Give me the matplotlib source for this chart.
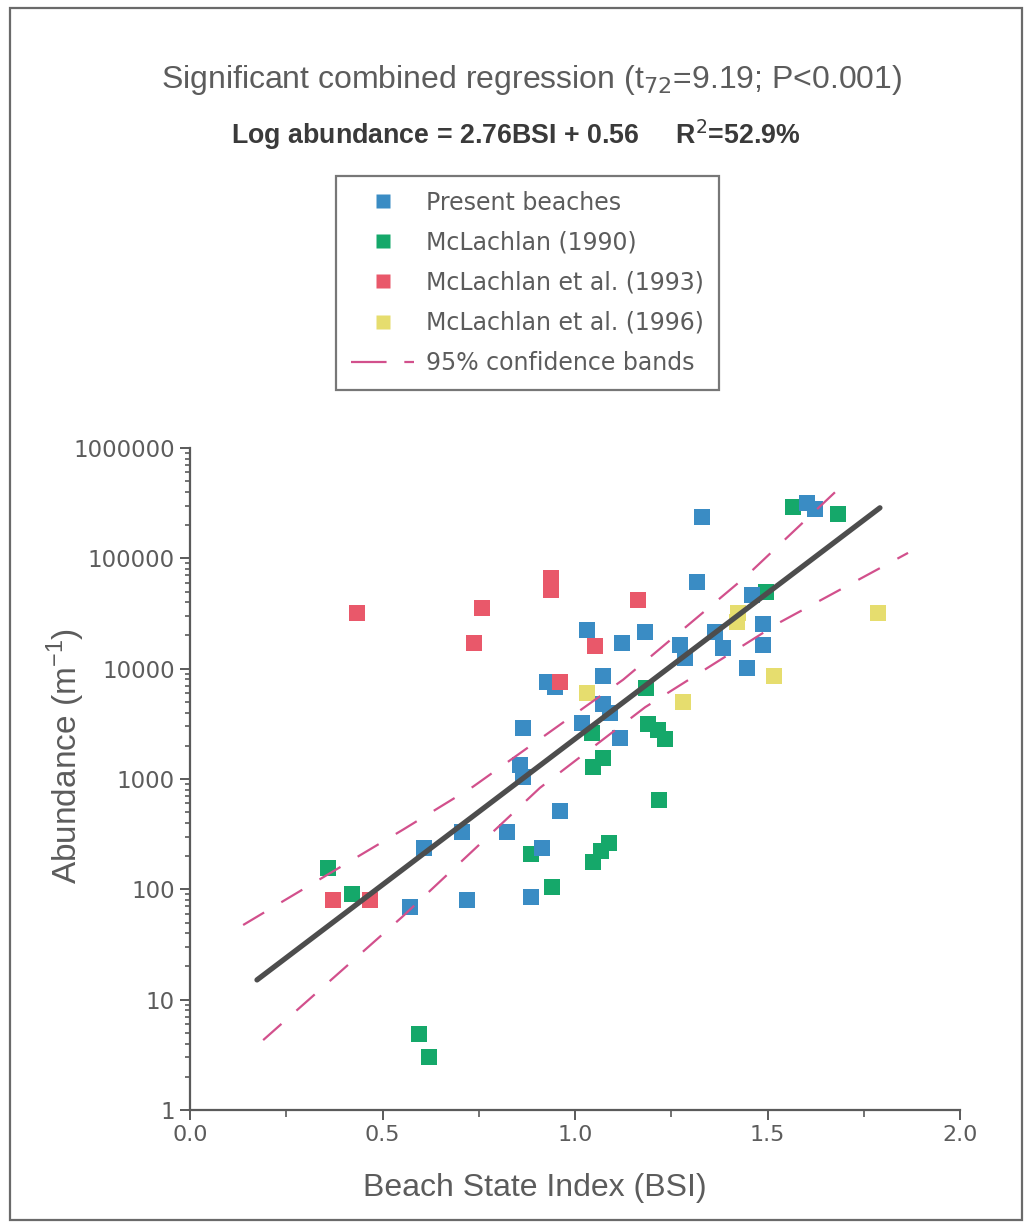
import matplotlib
matplotlib.use("Agg")
import matplotlib.pyplot as plt
from matplotlib.patches import Rectangle
from matplotlib.lines import Line2D
from matplotlib.ticker import LogLocator, FixedLocator, NullFormatter
import numpy as np

# values (BSI, abundance per m)
present_bsi = [1.330, 1.317, 1.031, 1.122, 1.182, 1.460, 1.488, 1.488, 1.447, 1.273,
               1.286, 1.364, 1.384, 1.603, 1.623, 1.073, 0.927, 0.948, 1.073, 1.091,
               1.018, 1.117, 0.865, 0.857, 0.865, 0.961, 0.706, 0.823, 0.608, 0.914,
               0.571, 0.719, 0.886]
present_ab = [237000, 61200, 22500, 17100, 21600, 46700, 25500, 16400, 10200, 16400,
              12500, 21600, 15400, 318000, 281000, 8600, 7600, 6800, 4800, 4000,
              3200, 2360, 2900, 1340, 1050, 514, 331, 331, 237, 237,
              69, 80, 85]

mcl90_bsi = [1.566, 1.683, 1.496, 1.184, 1.044, 1.190, 1.216, 1.234, 1.073, 1.047,
             1.218, 1.088, 1.068, 1.047, 0.886, 0.940, 0.358, 0.421, 0.595, 0.621]
mcl90_ab = [293000, 253000, 49700, 6700, 2620, 3160, 2790, 2310, 1550, 1290,
            646, 263, 223, 177, 209, 105, 156, 91, 4.9, 3.0]

mcl93_bsi = [0.434, 0.758, 0.738, 0.938, 0.938, 1.164, 1.052, 0.961, 0.371, 0.468]
mcl93_ab = [32000, 35600, 17100, 66500, 51800, 42000, 16100, 7600, 80, 80]

mcl96_bsi = [1.423, 1.421, 1.787, 1.517, 1.031, 1.281]
mcl96_ab = [32000, 26600, 32000, 8600, 6040, 5000]

# regression line and 95% confidence bands
fit_bsi = [0.174, 1.792]
fit_ab = [15.1, 287000]
upper_bsi = [0.138, 0.553, 0.735, 1.125, 1.442, 1.70]
upper_ab = [47.5, 347, 851, 7940, 67600, 479000]
lower_bsi = [0.19, 0.551, 0.909, 1.182, 1.532, 1.865]
lower_ab = [4.3, 56.2, 832, 4470, 26300, 112000]

c_blue = '#3a8cc4'
c_green = '#15a86a'
c_red = '#e9586a'
c_yellow = '#e6dd6e'
c_band = '#d2508c'
c_axis = '#5a5a5a'
c_text = '#5c5c5c'

fig = plt.figure(figsize=(10.31, 12.26), dpi=100)
ax = fig.add_axes([190/1031, 116/1226, 770/1031, 662/1226])

msize = 120
ax.scatter(mcl96_bsi, mcl96_ab, marker='s', s=msize, c=c_yellow, lw=0, zorder=2)
ax.scatter(mcl90_bsi, mcl90_ab, marker='s', s=msize, c=c_green, lw=0, zorder=2)
ax.scatter(present_bsi, present_ab, marker='s', s=msize, c=c_blue, lw=0, zorder=2)
ax.scatter(mcl93_bsi, mcl93_ab, marker='s', s=msize, c=c_red, lw=0, zorder=2)

ax.plot(fit_bsi, fit_ab, color='#4d4d4d', lw=3.8, solid_capstyle='round', zorder=3)
for bx, by in [(upper_bsi, upper_ab), (lower_bsi, lower_ab)]:
    ax.plot(bx, by, color=c_band, lw=1.6, dashes=(11, 9), zorder=3)

ax.set_yscale('log')
ax.set_xlim(0, 2.0)
ax.set_ylim(1, 1e6)
ax.set_xticks([0, 0.5, 1.0, 1.5, 2.0])
ax.set_xticklabels(['0.0', '0.5', '1.0', '1.5', '2.0'])
ax.xaxis.set_minor_locator(FixedLocator([0.25, 0.75, 1.25, 1.75]))
ax.yaxis.set_major_locator(FixedLocator([1, 10, 100, 1000, 10000, 100000, 1000000]))
ax.set_yticklabels(['1', '10', '100', '1000', '10000', '100000', '1000000'])
ax.yaxis.set_minor_locator(LogLocator(base=10, subs=np.arange(2, 10), numticks=20))
ax.yaxis.set_minor_formatter(NullFormatter())

for s in ['top', 'right']:
    ax.spines[s].set_visible(False)
for s in ['left', 'bottom']:
    ax.spines[s].set_color(c_axis)
    ax.spines[s].set_linewidth(1.6)
ax.tick_params(axis='both', which='major', direction='out', length=7, width=1.4,
               color=c_axis, labelcolor=c_text, labelsize=16, pad=4)
ax.tick_params(axis='y', which='minor', direction='out', length=3.5, width=1.2, color=c_axis)
ax.tick_params(axis='x', which='minor', direction='out', length=5, width=1.2, color=c_axis)
for lab in ax.get_xticklabels():
    lab.set_family('DejaVu Sans')
for lab in ax.get_yticklabels():
    lab.set_family('DejaVu Sans')
    lab.set_fontsize(16.5)

ax.set_xlabel('Beach State Index (BSI)', fontsize=23, family='Liberation Sans', color=c_text)
ax.xaxis.set_label_coords(0.448, -0.095)
ax.set_ylabel('Abundance (m$^{\\mathregular{-1}}$)', fontsize=24, family='Liberation Sans',
              color=c_text)
ax.yaxis.set_label_coords(-0.134, 0.535)

fig.text(532/1031, 1 - 80/1226, 'Significant combined regression (t$_{72}$=9.19; P<0.001)',
         ha='center', va='center', fontsize=23, family='Liberation Sans', color=c_text)
fig.text(516/1031, 1 - 135/1226, 'Log abundance = 2.76BSI + 0.56     R$^{2}$=52.9%',
         ha='center', va='center', fontsize=19.3, family='Liberation Sans', weight='bold',
         color='#3a3a3a')

handles = [
    Line2D([], [], ls='none', marker='s', ms=10, mfc=c_blue, mec='none'),
    Line2D([], [], ls='none', marker='s', ms=10, mfc=c_green, mec='none'),
    Line2D([], [], ls='none', marker='s', ms=10, mfc=c_red, mec='none'),
    Line2D([], [], ls='none', marker='s', ms=10, mfc=c_yellow, mec='none'),
    Line2D([], [], color=c_band, lw=1.6, dashes=(16, 8)),
]
labels = ['Present beaches', 'McLachlan (1990)', 'McLachlan et al. (1993)',
          'McLachlan et al. (1996)', '95% confidence bands']
leg = fig.legend(handles, labels, loc='upper left', bbox_to_anchor=(336/1031, 1 - 176/1226),
                 bbox_transform=fig.transFigure, frameon=True, fancybox=False,
                 fontsize=17, handlelength=2.7, handletextpad=0.5, labelspacing=0.68,
                 borderpad=0.62, borderaxespad=0)
leg.get_frame().set_edgecolor('#555555')
leg.get_frame().set_linewidth(1.6)
for t in leg.get_texts():
    t.set_color(c_text)
    t.set_family('DejaVu Sans')

fig.patches.append(Rectangle((10/1031, 1 - 1220/1226), 1012/1031, 1212/1226,
                             transform=fig.transFigure, fill=False,
                             edgecolor='#6a6a6a', lw=1.6))

fig.savefig('out.png', dpi=100)
